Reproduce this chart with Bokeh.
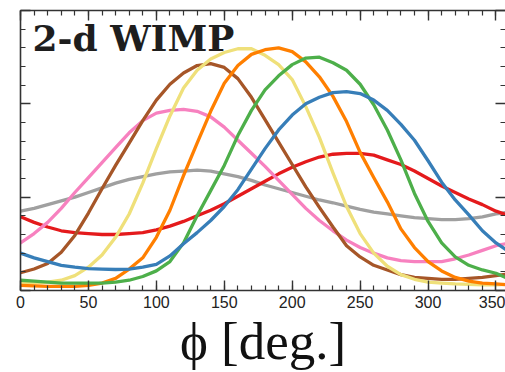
from bokeh.plotting import figure
from bokeh.models import LinearAxis, Label, FixedTicker
from bokeh.embed import file_html
from bokeh.resources import INLINE

# azimuthal angle samples [deg]
phi = list(range(0, 361, 10))

# modulation curves (arbitrary units), one per sample angle
blue = [0.40, 0.35, 0.31, 0.27, 0.25, 0.235, 0.23, 0.225, 0.23, 0.25, 0.28, 0.37,
        0.50, 0.62, 0.75, 0.90, 1.08, 1.30, 1.52, 1.72, 1.88, 2.00, 2.07, 2.12,
        2.13, 2.11, 2.04, 1.93, 1.78, 1.61, 1.39, 1.16, 0.97, 0.81, 0.64, 0.51, 0.41]
green = [0.11, 0.10, 0.09, 0.08, 0.08, 0.08, 0.08, 0.09, 0.11, 0.15, 0.21, 0.31,
         0.51, 0.80, 1.07, 1.34, 1.66, 1.93, 2.15, 2.30, 2.42, 2.49, 2.50, 2.44,
         2.36, 2.21, 1.99, 1.72, 1.40, 1.04, 0.74, 0.51, 0.36, 0.27, 0.22, 0.185, 0.12]
orange = [0.055, 0.05, 0.045, 0.045, 0.045, 0.055, 0.08, 0.13, 0.23, 0.35, 0.57, 0.86,
          1.23, 1.58, 1.92, 2.22, 2.41, 2.53, 2.58, 2.60, 2.56, 2.45, 2.29, 2.08,
          1.81, 1.48, 1.21, 0.95, 0.66, 0.46, 0.31, 0.21, 0.14, 0.10, 0.08, 0.07, 0.06]
yellow = [0.08, 0.08, 0.09, 0.11, 0.16, 0.25, 0.38, 0.57, 0.82, 1.15, 1.52, 1.87,
          2.17, 2.36, 2.48, 2.55, 2.59, 2.59, 2.52, 2.42, 2.26, 1.97, 1.64, 1.26,
          0.90, 0.61, 0.40, 0.26, 0.17, 0.12, 0.09, 0.08, 0.07, 0.065, 0.06, 0.06, 0.07]
brown = [0.19, 0.23, 0.29, 0.41, 0.59, 0.83, 1.09, 1.34, 1.58, 1.82, 2.04, 2.21,
         2.33, 2.41, 2.43, 2.39, 2.27, 2.07, 1.83, 1.59, 1.35, 1.11, 0.89, 0.68,
         0.48, 0.36, 0.27, 0.22, 0.17, 0.14, 0.13, 0.12, 0.12, 0.13, 0.14, 0.16, 0.18]
pink = [0.51, 0.61, 0.73, 0.88, 1.05, 1.21, 1.37, 1.53, 1.69, 1.82, 1.90, 1.93,
        1.94, 1.92, 1.86, 1.75, 1.61, 1.47, 1.33, 1.18, 1.03, 0.88, 0.75, 0.64,
        0.54, 0.46, 0.40, 0.35, 0.32, 0.31, 0.31, 0.31, 0.34, 0.38, 0.43, 0.48, 0.51]
gray = [0.85, 0.88, 0.92, 0.96, 1.00, 1.05, 1.10, 1.15, 1.19, 1.22, 1.25, 1.27,
        1.28, 1.29, 1.28, 1.25, 1.22, 1.18, 1.13, 1.09, 1.05, 1.01, 0.97, 0.94,
        0.905, 0.87, 0.84, 0.82, 0.80, 0.78, 0.77, 0.76, 0.76, 0.77, 0.79, 0.82, 0.84]
red = [0.79, 0.73, 0.68, 0.64, 0.62, 0.61, 0.60, 0.60, 0.61, 0.62, 0.65, 0.69,
       0.74, 0.80, 0.86, 0.93, 1.01, 1.09, 1.17, 1.25, 1.32, 1.38, 1.43, 1.46,
       1.47, 1.47, 1.45, 1.40, 1.35, 1.28, 1.20, 1.12, 1.05, 0.98, 0.92, 0.85, 0.80]

series = [
    (gray, "#a0a0a0"),
    (red, "#e41a1c"),
    (pink, "#f781bf"),
    (brown, "#a65628"),
    (yellow, "#efe07a"),
    (orange, "#ff7f00"),
    (green, "#4daf4a"),
    (blue, "#377eb8"),
]

x_ticks = [0, 50, 100, 150, 200, 250, 300, 350]
x_minor = list(range(0, 361, 10))
y_ticks = [0, 1, 2, 3]
y_minor = [i * 0.2 for i in range(16)]

p = figure(width=505, height=372, x_range=(0, 357), y_range=(0, 3),
           output_backend="svg", toolbar_location=None,
           min_border_left=20, min_border_right=0, min_border_top=10,
           min_border_bottom=10)
p.outline_line_color = None
p.xgrid.grid_line_color = None
p.ygrid.grid_line_color = None
p.background_fill_color = "white"
p.border_fill_color = "white"

for ys, col in series:
    p.line(phi, ys, line_color=col, line_width=3.3, line_cap="round",
           line_join="round")

bottom = p.below[0]
left = p.left[0]
top = LinearAxis()
right = LinearAxis()
p.add_layout(top, "above")
p.add_layout(right, "right")

xt = FixedTicker(ticks=x_ticks, minor_ticks=x_minor)
yt = FixedTicker(ticks=y_ticks, minor_ticks=y_minor)

for ax in [bottom, top]:
    ax.ticker = xt
for ax in [left, right]:
    ax.ticker = yt

for ax in [bottom, top, left, right]:
    ax.major_tick_in = 10
    ax.major_tick_out = 0
    ax.minor_tick_in = 5
    ax.minor_tick_out = 0
    ax.axis_line_color = "#333333"
    ax.axis_line_width = 1.6
    ax.major_tick_line_color = "#333333"
    ax.major_tick_line_width = 1.4
    ax.minor_tick_line_color = "#333333"
    ax.minor_tick_line_width = 1.2

# frame sides that carry ticks only
for ax, ticks in [(top, x_ticks), (left, y_ticks), (right, y_ticks)]:
    ax.major_label_overrides = {t: "" for t in ticks}
    ax.major_label_text_font_size = "1px"
    ax.major_label_standoff = 0
right.axis_line_color = None

bottom.major_label_text_font = "Liberation Sans"
bottom.major_label_text_font_size = "16px"
bottom.major_label_text_color = "#222222"
bottom.major_label_standoff = 5

bottom.axis_label = "\u03d5 [deg.]"
bottom.axis_label_text_font = "Liberation Serif"
bottom.axis_label_text_font_style = "normal"
bottom.axis_label_text_font_size = "53px"
bottom.axis_label_text_color = "#111111"
bottom.axis_label_standoff = 1

# panel title
p.add_layout(Label(x=8.8, y=2.71, text="2-d WIMP", text_font="DejaVu Serif",
                   text_font_style="bold", text_font_size="36px",
                   text_color="#1e1e1e", text_baseline="alphabetic"))

open("out.html", "w").write(file_html(p, INLINE))
